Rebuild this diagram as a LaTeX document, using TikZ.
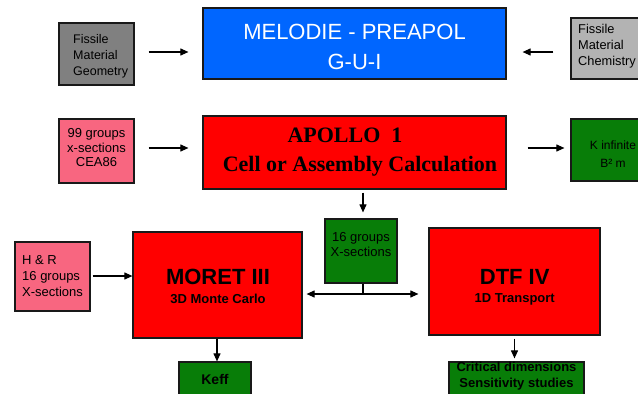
\documentclass[tikz,border=0pt]{standalone}
\usepackage{fontspec}
\setmainfont{Liberation Sans}
\newfontfamily\timesfont{Liberation Serif}
\usetikzlibrary{arrows.meta}
\definecolor{guiblue}{RGB}{0,102,255}
\definecolor{calcred}{RGB}{255,0,0}
\definecolor{datapink}{RGB}{248,102,128}
\definecolor{outgreen}{RGB}{8,125,8}
\definecolor{geogray}{RGB}{128,128,128}
\definecolor{chemgray}{RGB}{179,179,179}
\begin{document}
\begin{tikzpicture}[x=1pt,y=-1pt,
  box/.style={draw=black!90, line width=1.2pt, rectangle, inner sep=0pt},
  txt/.style={inner sep=0pt, font=\fontsize{13}{15.5}\selectfont},
  arr/.style={draw=black, line width=1.1pt, -{Triangle[length=8pt,width=7pt]}},
  darr/.style={draw=black, line width=1.1pt, {Triangle[length=8pt,width=7pt]}-{Triangle[length=8pt,width=7pt]}},
  plain/.style={draw=black, line width=1.1pt}]
\useasboundingbox (0,0) rectangle (638,394);
\clip (0,0) rectangle (638,394);
% boxes
\node[box, fill=geogray, minimum width=75pt, minimum height=62pt] (geo) at (96.5,54) {};
\node[box, fill=guiblue, minimum width=303pt, minimum height=71pt] (gui) at (354.5,43.5) {};
\node[box, fill=chemgray, minimum width=89pt, minimum height=61pt] (chem) at (615.5,48.5) {};
\node[box, fill=datapink, minimum width=75pt, minimum height=64pt] (cea) at (96.5,151) {};
\node[box, fill=calcred, minimum width=303pt, minimum height=73pt] (apollo) at (354.5,152.5) {};
\node[box, fill=outgreen, minimum width=89pt, minimum height=62pt] (kinf) at (615.5,150) {};
\node[box, fill=outgreen, minimum width=72pt, minimum height=64pt] (xs) at (361,251) {};
\node[box, fill=datapink, minimum width=75pt, minimum height=69pt] (hr) at (52.5,276.5) {};
\node[box, fill=calcred, minimum width=169pt, minimum height=106pt] (moret) at (217.5,285) {};
\node[box, fill=calcred, minimum width=171pt, minimum height=107pt] (dtf) at (514.5,281.5) {};
\node[box, fill=outgreen, minimum width=72pt, minimum height=38pt] (keff) at (215,381) {};
\node[box, fill=outgreen, minimum width=135pt, minimum height=38pt] (crit) at (516.5,381) {};
% texts
\node[txt, anchor=west, align=left, font=\fontsize{12.5}{16}\selectfont] (geot) at (73,56) {Fissile\\Material\\Geometry};
\node[txt, align=center, text=white, font=\fontsize{22}{30}\selectfont] (guit) at (354.5,47) {MELODIE - PREAPOL\\G-U-I};
\node[txt, anchor=west, align=left, font=\fontsize{12.8}{16}\selectfont] (chemt) at (578,46) {Fissile\\Material\\Chemistry};
\node[txt, align=center, font=\fontsize{13}{14.5}\selectfont] (ceat) at (96.5,148) {99 groups\\x-sections\\CEA86};
\node[txt, align=center, font=\timesfont\bfseries\fontsize{22}{29}\selectfont] (apollot) at (360,152) {APOLLO\ \ 1\hspace*{30pt}\\Cell or Assembly Calculation};
\node[txt, align=center, font=\fontsize{12}{18}\selectfont] (kinft) at (613,154) {K infinite\\B² m};
\node[txt, align=center, font=\fontsize{13}{15}\selectfont] (xst) at (361,245) {16 groups\\X-sections};
\node[txt, anchor=west, align=left, font=\fontsize{13}{16}\selectfont] (hrt) at (22,276) {H \& R\\16 groups\\X-sections};
\node[txt, font=\bfseries\fontsize{22}{26}\selectfont] (moret1) at (218,277) {MORET III};
\node[txt, font=\bfseries\fontsize{13}{15}\selectfont] (moret2) at (218,299) {3D Monte Carlo};
\node[txt, font=\bfseries\fontsize{22}{26}\selectfont] (dtf1) at (514.7,277) {DTF IV};
\node[txt, font=\bfseries\fontsize{13}{15}\selectfont] (dtf2) at (514.7,299) {1D Transport};
\node[txt, font=\bfseries\fontsize{14}{16}\selectfont] (kefft) at (215,379) {Keff};
\node[txt, align=center, font=\bfseries\fontsize{13}{16}\selectfont] (critt) at (516.5,376) {Critical dimensions\\Sensitivity studies};
% reference rows and columns
\coordinate (r1) at (0,52);
\coordinate (r2) at (0,148);
\coordinate (r3) at (0,276);
\coordinate (r4) at (0,294);
\coordinate (tick) at (363,294);
\coordinate (c5) at (217,0);
% connectors
\draw[arr, shorten <=14pt, shorten >=14pt] (geo.east |- r1) -- (gui.west |- r1);
\draw[arr, shorten <=17pt, shorten >=16pt] (chem.west |- r1) -- (gui.east |- r1);
\draw[arr, shorten <=14pt, shorten >=14pt] (cea.east |- r2) -- (apollo.west |- r2);
\draw[arr, shorten <=21pt, shorten >=6pt] (apollo.east |- r2) -- (kinf.west |- r2);
\draw[arr, shorten <=3pt, shorten >=6pt] (apollo.south -| tick) -- (xs.north -| tick);
\draw[arr, shorten <=2pt] (hr.east |- r3) -- (moret.west |- r3);
\draw[darr, shorten <=4pt, shorten >=10pt] (moret.east |- r4) -- (dtf.west |- r4);
\draw[plain] (xs.south -| tick) -- (tick);
\draw[arr] (moret.south -| c5) -- (keff.north -| c5);
\draw[arr, shorten <=3pt, shorten >=3pt] (dtf.south) -- (crit.north -| dtf.south);
\end{tikzpicture}
\end{document}
